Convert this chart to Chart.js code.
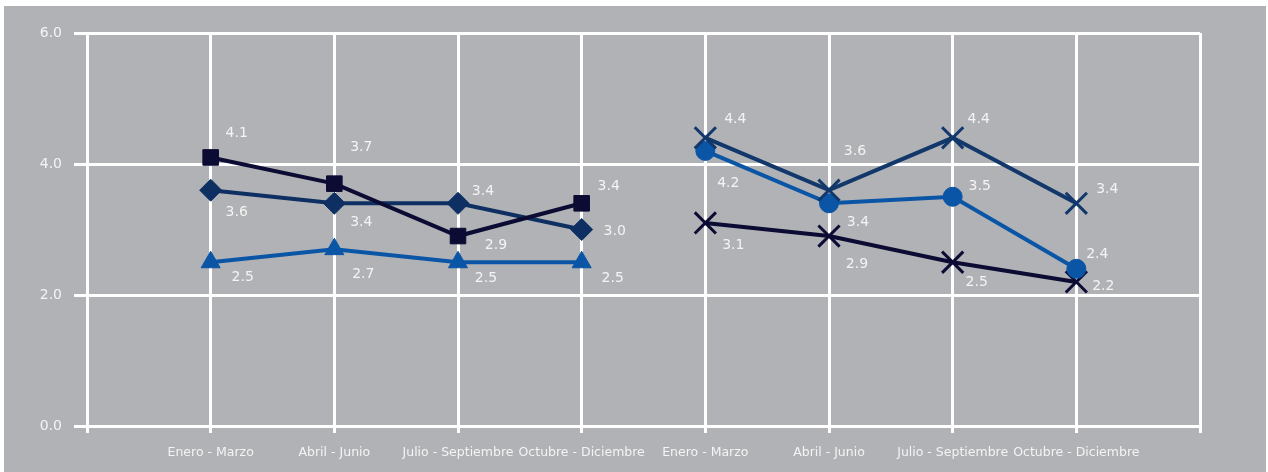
<!DOCTYPE html>
<html>
<head>
    <title>Gráfica trimestral</title>
    <script src="https://cdn.jsdelivr.net/npm/chart.js@4.4.0/dist/chart.umd.min.js"></script>
</head>
<body style="margin:0; background-color: white;">
    <div style="position:absolute; left:4px; top:6px; width:1262px; height:466px; background-color:#b1b2b6;">
        <canvas id="myChart" width="1262" height="466"></canvas>
    </div>
    <script>
        // Categorías (la primera y la última quedan vacías, como en el original)
        var trimestres = ['', 'Enero - Marzo', 'Abril - Junio', 'Julio - Septiembre', 'Octubre - Diciembre',
                          'Enero - Marzo', 'Abril - Junio', 'Julio - Septiembre', 'Octubre - Diciembre', ''];

        // Primer año
        var serieCuadrado = [null, 4.1, 3.7, 2.9, 3.4, null, null, null, null, null];
        var serieRombo    = [null, 3.6, 3.4, 3.4, 3.0, null, null, null, null, null];
        var serieTriangulo= [null, 2.5, 2.7, 2.5, 2.5, null, null, null, null, null];
        // Segundo año
        var serieCruzAlta = [null, null, null, null, null, 4.4, 3.6, 4.4, 3.4, null];
        var serieCirculo  = [null, null, null, null, null, 4.2, 3.4, 3.5, 2.4, null];
        var serieCruzBaja = [null, null, null, null, null, 3.1, 2.9, 2.5, 2.2, null];

        var ticksY = [0, 2, 4, 6];

        // Desplazamiento de las etiquetas respecto a cada punto (estilo)
        var desplazamientos = [
            [[26, -24], [27, -36], [38, 9], [27, -17]],
            [[26, 22], [27, 19], [25, -12], [33, 2]],
            [[32, 15], [29, 25], [28, 16], [31, 16]],
            [[30, -18], [26, -39], [26, -18], [31, -14]],
            [[23, 32], [29, 19], [27, -10], [21, -14]],
            [[28, 22], [28, 28], [24, 20], [27, 4]]
        ];

        var fuente = "'DejaVu Sans', sans-serif";
        var blanco = '#f4f4f4';

        function serie(datos, color, forma, radio, grosor) {
            return {
                data: datos,
                borderColor: color,
                backgroundColor: color,
                borderWidth: 4,
                pointStyle: forma,
                pointRadius: radio,
                pointHoverRadius: radio,
                pointBorderWidth: grosor,
                pointBorderColor: color,
                pointBackgroundColor: color,
                tension: 0,
                fill: false,
                spanGaps: false
            };
        }

        // Plugin para escribir los valores junto a cada punto
        var etiquetas = {
            id: 'etiquetas',
            afterDatasetsDraw: function(chart) {
                var c = chart.ctx;
                c.save();
                c.fillStyle = blanco;
                c.font = '14px ' + fuente;
                c.textAlign = 'center';
                c.textBaseline = 'middle';
                chart.data.datasets.forEach(function(ds, i) {
                    var meta = chart.getDatasetMeta(i);
                    var k = 0;
                    ds.data.forEach(function(v, j) {
                        if (v === null) return;
                        var p = meta.data[j];
                        var d = desplazamientos[i][k++];
                        c.fillText(v.toFixed(1), p.x + d[0], p.y + d[1]);
                    });
                });
                c.restore();
            }
        };

        var ctx = document.getElementById('myChart').getContext('2d');
        var myChart = new Chart(ctx, {
            type: 'line',
            data: {
                labels: trimestres,
                datasets: [
                    serie(serieCuadrado, '#0b0b33', 'rect', 11, 1),
                    serie(serieRombo, '#0d2f62', 'rectRot', 11, 1),
                    serie(serieTriangulo, '#0a55a5', 'triangle', 11, 1),
                    serie(serieCruzAlta, '#12386b', 'crossRot', 15, 3),
                    serie(serieCirculo, '#0a55a5', 'circle', 9.5, 1),
                    serie(serieCruzBaja, '#0b0b33', 'crossRot', 15, 3)
                ]
            },
            options: {
                responsive: false,
                animation: false,
                layout: { padding: { top: 27, right: 66, left: 0, bottom: 0 } },
                plugins: {
                    legend: { display: false },
                    tooltip: { enabled: false }
                },
                scales: {
                    x: {
                        offset: false,
                        grid: { color: 'white', lineWidth: 3, tickLength: 7, tickColor: 'white' },
                        border: { color: 'white', width: 3 },
                        ticks: {
                            color: blanco,
                            font: { family: fuente, size: 12.5 },
                            maxRotation: 0,
                            autoSkip: false,
                            padding: 12
                        },
                        afterFit: function(s) { s.height = 46; }
                    },
                    y: {
                        min: 0,
                        max: 6,
                        afterBuildTicks: function(s) {
                            s.ticks = ticksY.map(function(v) { return { value: v }; });
                        },
                        grid: { color: 'white', lineWidth: 3, tickLength: 13, tickColor: 'white' },
                        border: { color: 'white', width: 3 },
                        ticks: {
                            color: blanco,
                            font: { family: fuente, size: 14 },
                            padding: 12,
                            callback: function(v) { return Number(v).toFixed(1); }
                        },
                        afterFit: function(s) { s.width = 83; }
                    }
                }
            },
            plugins: [etiquetas]
        });
    </script>
</body>
</html>
